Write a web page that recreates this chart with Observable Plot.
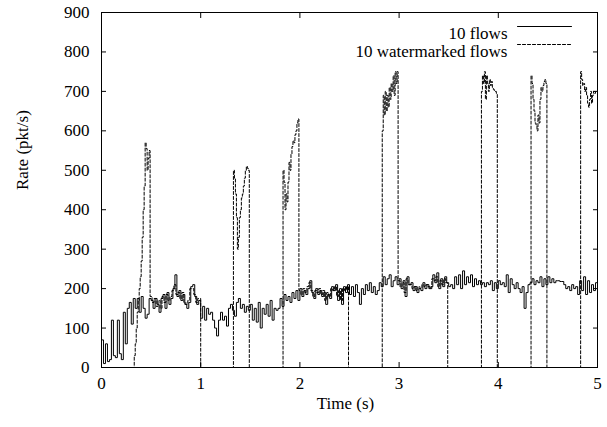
<!DOCTYPE html>
<html>
<head>
<meta charset="utf-8">
<script src="https://cdn.jsdelivr.net/npm/d3@7"></script>
<script src="https://cdn.jsdelivr.net/npm/@observablehq/plot@0.6"></script>
<style>
  html, body { margin: 0; padding: 0; background: white; }
</style>
</head>
<body>
<div id="chart"></div>
<script>
// ---- data ----
const xTicks = [0, 1, 2, 3, 4, 5];
const yTicks = [0, 100, 200, 300, 400, 500, 600, 700, 800, 900];
const seriesNames = ["10 flows", "10 watermarked flows"];

// "10 flows": one rate value per 0.02 s bin, starting at t = 0
const binWidth = 0.02;
const flowRates = [
  70, 10, 60, 15, 20, 120, 30, 25, 120, 35,
  20, 140, 60, 150, 165, 110, 175, 150, 175, 140,
  180, 150, 125, 135, 175, 170, 150, 175, 160, 140,
  175, 185, 150, 190, 160, 175, 200, 235, 180, 195,
  170, 185, 160, 150, 165, 205, 210, 180, 160, 170,
  125, 155, 120, 150, 135, 140, 120, 100, 80, 120,
  140, 120, 130, 105, 150, 160, 145, 130, 165, 175,
  150, 160, 140, 155, 145, 160, 120, 150, 115, 165,
  100, 150, 135, 160, 130, 170, 120, 150, 145, 150,
  175, 155, 185, 170, 180, 165, 190, 175, 195, 170,
  200, 180, 195, 185, 200, 220, 190, 175, 200, 185,
  195, 180, 190, 160, 185, 175, 205, 195, 210, 170,
  200, 160, 205, 190, 210, 185, 205, 180, 210, 190,
  160, 200, 185, 210, 195, 215, 190, 205, 185, 195,
  215, 205, 230, 210, 225, 235, 205, 220, 230, 210,
  225, 200, 220, 180, 230, 210, 215, 195, 205, 190,
  200, 195, 215, 200, 210, 200, 205, 235, 215, 240,
  200, 225, 205, 230, 215, 205, 210, 200, 230, 210,
  235, 200, 245, 210, 230, 215, 235, 205, 225, 210,
  220, 210, 215, 205, 215, 210, 220, 195, 215, 200,
  220, 210, 215, 205, 235, 190, 225, 210, 200, 215,
  200, 190, 205, 150, 190, 210, 215, 225, 210, 220,
  215, 230, 205, 225, 210, 230, 215, 225, 215, 220,
  220, 218, 218, 210, 200, 205, 195, 210, 200, 205,
  185, 220, 195, 230, 185, 220, 190, 210, 195, 215
];

// "10 watermarked flows": step start times (s) and rates (pkt/s)
const wmTimes = [
  0.00,
  0.33, 0.34, 0.35, 0.36, 0.37, 0.38, 0.39, 0.40, 0.41, 0.42, 0.43, 0.44, 0.45, 0.46, 0.47, 0.48,
  0.49, 0.51, 0.53, 0.55, 0.57, 0.59, 0.61, 0.63, 0.65, 0.67, 0.69, 0.71, 0.73, 0.75, 0.77, 0.79, 0.81, 0.83, 0.85, 0.87, 0.89, 0.91, 0.93, 0.95, 0.97,
  1.00,
  1.33, 1.34, 1.35, 1.36, 1.37, 1.38, 1.39, 1.40, 1.41, 1.42, 1.43, 1.44, 1.45, 1.46, 1.47, 1.48,
  1.49,
  1.83, 1.84, 1.85, 1.86, 1.87, 1.88, 1.89, 1.90, 1.91, 1.92, 1.93, 1.94, 1.95, 1.96, 1.97, 1.98,
  1.99, 2.01, 2.03, 2.05, 2.07, 2.09, 2.11, 2.13, 2.15, 2.17, 2.19, 2.21, 2.23, 2.25, 2.27, 2.29, 2.31, 2.33, 2.35, 2.37, 2.39, 2.41, 2.43, 2.45, 2.47,
  2.49,
  2.83, 2.84, 2.85, 2.86, 2.87, 2.88, 2.89, 2.90, 2.91, 2.92, 2.93, 2.94, 2.95, 2.96, 2.97, 2.98,
  2.99, 3.01, 3.03, 3.05, 3.07, 3.09, 3.11, 3.13, 3.15, 3.17, 3.19, 3.21, 3.23, 3.25, 3.27, 3.29, 3.31, 3.33, 3.35, 3.37, 3.39, 3.41, 3.43, 3.45, 3.47,
  3.49,
  3.83, 3.84, 3.85, 3.86, 3.87, 3.88, 3.89, 3.90, 3.91, 3.92, 3.93, 3.94, 3.95, 3.96, 3.97, 3.98,
  3.99,
  4.33, 4.34, 4.35, 4.36, 4.37, 4.38, 4.39, 4.40, 4.41, 4.42, 4.43, 4.44, 4.45, 4.46, 4.47, 4.48,
  4.49,
  4.83, 4.84, 4.85, 4.86, 4.87, 4.88, 4.89, 4.90, 4.91, 4.92, 4.93, 4.94, 4.95, 4.96, 4.97, 4.98, 5.00
];
const wmRates = [
  0,
  30, 60, 100, 140, 170, 200, 230, 270, 330, 400, 460, 570, 555, 500, 530, 550,
  180, 165, 175, 155, 170, 150, 180, 165, 185, 170, 180, 195, 210, 185, 190, 175, 190, 165, 160, 170, 200, 200, 185, 165, 175,
  0,
  500, 480, 440, 380, 300, 330, 380, 400, 430, 440, 460, 480, 500, 510, 505, 500,
  0,
  500, 470, 400, 440, 420, 470, 520, 500, 540, 560, 575, 570, 590, 600, 620, 630,
  195, 185, 200, 190, 205, 215, 195, 180, 195, 190, 200, 185, 195, 170, 190, 180, 200, 195, 205, 180, 195, 170, 200, 195, 205,
  0,
  600, 690, 640, 700, 650, 690, 660, 710, 680, 720, 700, 740, 690, 750, 720, 750,
  220, 205, 215, 190, 225, 210, 210, 200, 205, 195, 205, 200, 210, 205, 210, 205, 200, 225, 220, 230, 205, 220, 210, 225, 215,
  0,
  700, 740, 720, 750, 680, 740, 720, 700, 730, 715, 725, 710, 705, 700, 700, 695,
  0,
  740, 720, 680, 650, 620, 615, 600, 640, 620, 680, 710, 700, 715, 725, 730, 720,
  0,
  750, 730, 715, 720, 700, 710, 690, 670, 660, 680, 700, 670, 690, 700, 695, 700, 700
];

// ---- build tables ----
const flows = flowRates.map((v, i) => ({t: i * binWidth, v}));
flows.push({t: 5, v: flowRates[flowRates.length - 1]});
const watermarked = wmTimes.map((t, i) => ({t, v: wmRates[i]}));

const lineShape = {
  draw(context, l) { context.moveTo(0, 0); context.lineTo(0, -l); }
};

const chart = Plot.plot({
  width: 607,
  height: 427,
  marginLeft: 101,
  marginRight: 10,
  marginTop: 12,
  marginBottom: 60,
  style: {fontFamily: "'Liberation Serif', 'Times New Roman', serif", fontSize: "17px", background: "white", color: "black"},
  x: {domain: [0, 5], axis: null},
  y: {domain: [0, 900], axis: null},
  marks: [
    Plot.line(watermarked, {x: "t", y: "v", curve: "step-after", stroke: "black", strokeWidth: 1, strokeDasharray: "3,2"}),
    Plot.line(flows, {x: "t", y: "v", curve: "step-after", stroke: "black", strokeWidth: 1}),
    Plot.frame({stroke: "black", strokeWidth: 1}),
    // inward tick marks on all four sides
    Plot.axisX(xTicks, {anchor: "bottom", tickSize: -5, fill: "none", label: null, stroke: "black"}),
    Plot.axisX(xTicks, {anchor: "top", tickSize: -5, fill: "none", label: null, stroke: "black"}),
    Plot.axisY(yTicks, {anchor: "left", tickSize: -5, fill: "none", label: null, stroke: "black"}),
    Plot.axisY(yTicks, {anchor: "right", tickSize: -5, fill: "none", label: null, stroke: "black"}),
    // tick labels
    Plot.axisX(xTicks, {anchor: "bottom", tickSize: 0, tickPadding: 9, label: null, fill: "black"}),
    Plot.axisY(yTicks, {anchor: "left", tickSize: 0, tickPadding: 12, label: null, fill: "black"}),
    // axis titles
    Plot.text(["Time (s)"], {frameAnchor: "bottom", dy: 41, dx: -4, fill: "black"}),
    Plot.text(["Rate (pkt/s)"], {frameAnchor: "left", dx: -79, rotate: -90, fill: "black"}),
    // legend
    Plot.text([seriesNames[0]], {frameAnchor: "top-right", dx: -90, dy: 14, textAnchor: "end", fill: "black"}),
    Plot.text([seriesNames[1]], {frameAnchor: "top-right", dx: -90, dy: 32, textAnchor: "end", fill: "black"}),
    Plot.vector([seriesNames[0]], {frameAnchor: "top-right", dx: -80, dy: 14, length: 54, rotate: 90, anchor: "start", shape: lineShape, stroke: "black", strokeWidth: 1}),
    Plot.vector([seriesNames[1]], {frameAnchor: "top-right", dx: -80, dy: 32, length: 54, rotate: 90, anchor: "start", shape: lineShape, stroke: "black", strokeWidth: 1, strokeDasharray: "3,2"})
  ]
});
document.getElementById("chart").appendChild(chart);
</script>
</body>
</html>
